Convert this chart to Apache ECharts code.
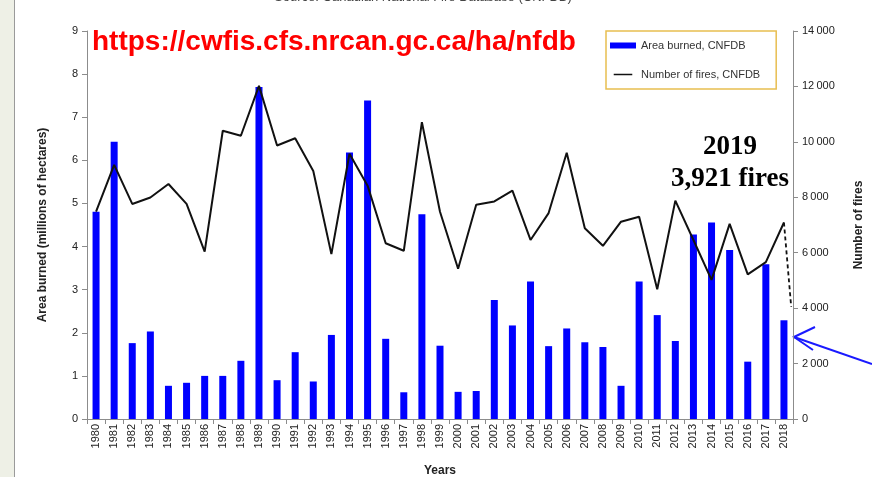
<!DOCTYPE html>
<html><head><meta charset="utf-8">
<script src="https://cdn.jsdelivr.net/npm/echarts@6/dist/echarts.min.js"></script>
<style>html,body{margin:0;padding:0;background:#fff}#c{width:872px;height:477px}</style>
</head><body><div id="c"></div>
<script>
const years = ['1980','1981','1982','1983','1984','1985','1986','1987','1988','1989','1990','1991','1992','1993','1994','1995','1996','1997','1998','1999','2000','2001','2002','2003','2004','2005','2006','2007','2008','2009','2010','2011','2012','2013','2014','2015','2016','2017','2018'];
const areaBurned = [4.81,6.43,1.76,2.03,0.77,0.84,1.00,1.00,1.35,7.70,0.90,1.55,0.87,1.95,6.18,7.39,1.86,0.62,4.75,1.70,0.63,0.65,2.76,2.17,3.19,1.69,2.10,1.78,1.67,0.77,3.19,2.41,1.81,4.28,4.56,3.92,1.33,3.59,2.29];
const numFires = [7480,9170,7760,7990,8480,7760,6040,10400,10220,12020,9870,10130,8950,5950,9570,8420,6340,6070,10710,7480,5420,7730,7850,8240,6460,7430,9610,6880,6250,7120,7300,4680,7880,6460,5020,7040,5220,5660,7090];
const fires2019Segment = [[38, 7090], [38.4, 4050]];
const leftTicks = {min: 0, max: 9, interval: 1};
const rightTicks = {min: 0, max: 14000, interval: 2000};

const chart = echarts.init(document.getElementById('c'));
const fmtSpace = v => String(v).replace(/\B(?=(\d{3})+(?!\d))/g, '\u2009');
const axisGray = '#8c8c8c';
const lineIcon = 'path://M0,0h0.01v0.01h-0.01zM0,3h26v2.4h-26zM0,8.4h0.01v0.01h-0.01z';
chart.setOption({
  animation: false,
  backgroundColor: '#fff',
  grid: {left: 87, right: 79, top: 31, bottom: 58, outerBoundsMode: 'none', containLabel: false},
  legend: {
    orient: 'vertical', left: 606, top: 31,
    borderColor: '#e8be50', borderWidth: 1.5, borderRadius: 0,
    padding: [9, 16, 9, 4], itemGap: 18, itemWidth: 26, itemHeight: 6,
    textStyle: {fontFamily: 'Liberation Sans', fontSize: 11, color: '#333'},
    data: [{name: 'Area burned, CNFDB', icon: 'rect'}, {name: 'Number of fires, CNFDB', icon: lineIcon}]
  },
  xAxis: [{
    type: 'category', data: years, boundaryGap: true,
    name: 'Years', nameLocation: 'middle', nameGap: 46,
    nameTextStyle: {fontFamily: 'Liberation Sans', fontWeight: 'bold', fontSize: 12, color: '#222'},
    axisLine: {onZero: false, lineStyle: {color: axisGray, width: 1}},
    axisTick: {show: true, alignWithLabel: false, length: 5, lineStyle: {color: axisGray}},
    axisLabel: {rotate: 90, interval: 0, margin: 5, fontFamily: 'Liberation Sans', fontSize: 11, color: '#222'}
  }, {
    type: 'value', min: -0.5, max: 38.5, show: false, axisLine: {onZero: false}
  }],
  yAxis: [{
    type: 'value', min: leftTicks.min, max: leftTicks.max, interval: leftTicks.interval,
    position: 'left',
    name: 'Area burned (millions of hectares)', nameLocation: 'middle', nameGap: 38, nameRotate: 90,
    nameTextStyle: {fontFamily: 'Liberation Sans', fontWeight: 'bold', fontSize: 12, color: '#222'},
    splitLine: {show: false},
    axisLine: {show: true, onZero: false, lineStyle: {color: axisGray}},
    axisTick: {show: true, length: 5, lineStyle: {color: axisGray}},
    axisLabel: {margin: 9, fontFamily: 'Liberation Sans', fontSize: 11, color: '#222'}
  }, {
    type: 'value', min: rightTicks.min, max: rightTicks.max, interval: rightTicks.interval,
    position: 'right',
    name: 'Number of fires', nameLocation: 'middle', nameGap: 60, nameRotate: 90,
    nameTextStyle: {fontFamily: 'Liberation Sans', fontWeight: 'bold', fontSize: 12, color: '#222'},
    splitLine: {show: false},
    axisLine: {show: true, onZero: false, lineStyle: {color: axisGray}},
    axisTick: {show: true, length: 5, lineStyle: {color: axisGray}},
    axisLabel: {margin: 9, fontFamily: 'Liberation Sans', fontSize: 11, color: '#222', formatter: fmtSpace}
  }],
  series: [{
    name: 'Area burned, CNFDB', type: 'bar', data: areaBurned, barWidth: 7,
    itemStyle: {color: '#0000ff'}, xAxisIndex: 0, yAxisIndex: 0
  }, {
    name: 'Number of fires, CNFDB', type: 'line', data: numFires, symbol: 'none', showSymbol: false,
    lineStyle: {color: '#111', width: 2}, itemStyle: {color: '#111'}, xAxisIndex: 0, yAxisIndex: 1, z: 5
  }, {
    name: '2019', type: 'line', data: fires2019Segment, symbol: 'none', clip: false,
    lineStyle: {color: '#111', width: 1.8, type: [4, 3]}, xAxisIndex: 1, yAxisIndex: 1, z: 5
  }],
  graphic: [
    {type: 'rect', shape: {x: 0, y: 0, width: 14, height: 477}, style: {fill: '#eef0e6'}, silent: true},
    {type: 'line', shape: {x1: 14.5, y1: 0, x2: 14.5, y2: 477}, style: {stroke: '#9a9a9a', lineWidth: 1}},
    {type: 'text', x: 423, y: -3, style: {text: 'Source: Canadian National Fire Database (CNFDB)', fontFamily: 'Liberation Sans', fontSize: 13, fill: '#444', align: 'center', verticalAlign: 'middle'}},
    {type: 'text', x: 92, y: 42, style: {text: 'https://cwfis.cfs.nrcan.gc.ca/ha/nfdb', fontFamily: 'Liberation Sans', fontWeight: 'bold', fontSize: 28, fill: '#ff0000', align: 'left', verticalAlign: 'middle'}},
    {type: 'text', x: 730, y: 147, style: {text: '2019', fontFamily: 'Liberation Serif', fontWeight: 'bold', fontSize: 27, fill: '#000', align: 'center', verticalAlign: 'middle'}},
    {type: 'text', x: 730, y: 179, style: {text: '3,921 fires', fontFamily: 'Liberation Serif', fontWeight: 'bold', fontSize: 27, fill: '#000', align: 'center', verticalAlign: 'middle'}},
    {type: 'line', shape: {x1: 872, y1: 364, x2: 794, y2: 337}, style: {stroke: '#1a1aff', lineWidth: 2}},
    {type: 'polyline', shape: {points: [[815, 327], [794, 337], [813, 350]]}, style: {stroke: '#1a1aff', lineWidth: 2, fill: null}}
  ]
});
</script></body></html>
